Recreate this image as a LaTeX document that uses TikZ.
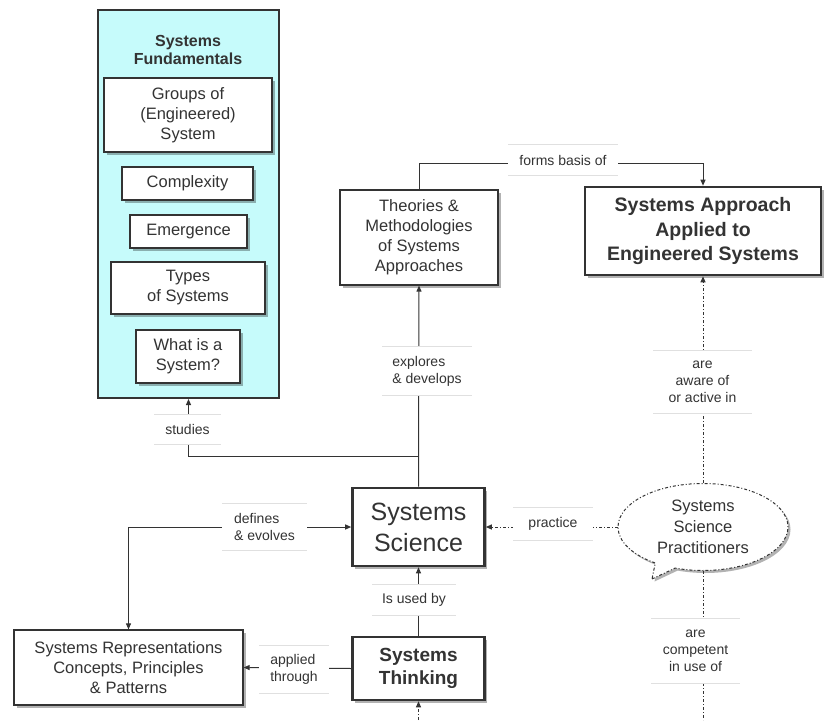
\documentclass[tikz,border=0pt]{standalone}
\usepackage{fontspec}
\setmainfont{Liberation Sans}
\usetikzlibrary{arrows.meta,shapes.callouts,shadows}
\definecolor{ink}{HTML}{333333}
\definecolor{cyanbg}{HTML}{C6FBFB}
\definecolor{lblgray}{HTML}{E0E0E0}
\begin{document}
\begin{tikzpicture}[x=1pt,y=-1pt,
  shad/.style={drop shadow={shadow xshift=2.5pt,shadow yshift=-2.5pt,fill=black,opacity=0.3}},
  box/.style={draw=ink,line width=1.2pt,fill=white,text=ink,align=center,inner sep=2pt,shad,
    font=\fontsize{16.5}{20}\selectfont},
  bigbox/.style={box,line width=2.6pt},
  container/.style={draw=ink,line width=2pt,fill=cyanbg},
  lbl/.style={fill=white,text=ink,inner sep=0pt,align=center,font=\fontsize{14}{17}\selectfont},
  lblline/.style={draw=lblgray,line width=0.8pt},
  conn/.style={draw=ink,line width=1pt},
  arr/.style={-{Triangle[length=6pt,width=5pt]}},
  dd/.style={dash pattern=on 3pt off 2pt on 1pt off 2pt},
  bubble/.style={ellipse callout,draw=ink,line width=1pt,dd,fill=white,text=ink,align=center,
    inner sep=0pt,minimum width=170pt,minimum height=87pt,shad,
    font=\fontsize{16.5}{21}\selectfont}
]
\useasboundingbox (0,0) rectangle (824,720);

% container
\node[container,minimum width=181pt,minimum height=388pt,inner sep=0pt] (sf) at (188.5,204) {};
\node[text=ink,align=center,font=\bfseries\fontsize{16}{18}\selectfont] (sftitle) at (188,50) {Systems\\Fundamentals};
\node[box,minimum width=168pt,minimum height=74pt] (groups) at (188,115) {Groups of\\(Engineered)\\System};
\node[box,minimum width=131pt,minimum height=33pt] (complexity) at (187.5,183.5) {Complexity};
\node[box,minimum width=117pt,minimum height=33pt] (emergence) at (188.5,231.5) {Emergence};
\node[box,minimum width=154pt,minimum height=52pt] (types) at (188,288) {Types\\of Systems};
\node[box,minimum width=104pt,minimum height=53pt] (what) at (188,356.5) {What is a\\System?};

% main boxes
\node[box,minimum width=158pt,minimum height=95pt] (theories) at (419,237.5) {Theories \&\\Methodologies\\of Systems\\Approaches};
\node[bigbox,minimum width=236pt,minimum height=88pt,font=\bfseries\fontsize{19.5}{24.5}\selectfont] (approach) at (703,231) {Systems Approach\\Applied to\\Engineered Systems};
\node[bigbox,minimum width=132pt,minimum height=78pt,font=\fontsize{25}{31}\selectfont] (science) at (418.5,527) {Systems\\Science};
\node[bigbox,minimum width=132pt,minimum height=63pt,font=\bfseries\fontsize{19}{23}\selectfont] (thinking) at (418.5,668.5) {Systems\\Thinking};
\node[box,minimum width=229pt,minimum height=75pt] (reps) at (128.5,667.5) {Systems Representations\\Concepts, Principles\\\& Patterns};
\node[bubble,callout absolute pointer={(652,579)}] (prac) at (703,527) {Systems\\Science\\Practitioners};

% helper coordinates
\coordinate (fb1) at (419,163);
\coordinate (fb2) at (703,163);
\coordinate (j1) at (418.5,456);
\coordinate (st) at (188.5,456);
\coordinate (de) at (128.5,527);
\coordinate (bt1) at (418.5,720);
\coordinate (bt2) at (703,720);

% connectors
\draw[conn,arr] (theories.north) -- (fb1) -- (fb2) -- (approach.north);
\draw[conn,arr] (science.north) -- (theories.south);
\draw[conn,arr] (j1) -- (st) -- (sf.south);
\draw[conn,{Triangle[length=6pt,width=5pt]}-{Triangle[length=6pt,width=5pt]}] (science.west) -- (de) -- (reps.north);
\draw[conn,arr] (thinking.north) -- (science.south);
\draw[conn,arr] (thinking.west) -- (reps.east);
\draw[conn,dd,arr] (prac.west) -- (science.east);
\draw[conn,dd,arr] (prac.north) -- (approach.south);
\draw[conn,dd] (prac.south) -- (bt2);
\draw[conn,dd,arr] (bt1) -- (thinking.south);

% labels
\node[lbl,minimum width=110pt,minimum height=30pt] (l1) at (563,160) {forms basis of};
\node[lbl,minimum width=90pt,minimum height=48pt,align=left] (l2) at (427,371) {explores\\\& develops};
\node[lbl,minimum width=66pt,minimum height=29pt] (l3) at (187.5,429.5) {studies};
\node[lbl,minimum width=85pt,minimum height=47pt,align=left] (l4) at (264.5,527) {defines\\\& evolves};
\node[lbl,minimum width=84pt,minimum height=30pt] (l5) at (414,600) {Is used by};
\node[lbl,minimum width=70pt,minimum height=47pt,align=left] (l6) at (294,669.5) {applied\\through};
\node[lbl,minimum width=80pt,minimum height=32pt] (l7) at (553,524) {practice};
\node[lbl,minimum width=99pt,minimum height=62pt] (l8) at (702.5,382) {are\\aware of\\or active in};
\node[lbl,minimum width=89pt,minimum height=64pt] (l9) at (695.5,651) {are\\competent\\in use of};
\foreach \l in {l1,l2,l3,l4,l5,l6,l7,l8,l9}{
  \draw[lblline] (\l.north west) -- (\l.north east) (\l.south west) -- (\l.south east);
}
\end{tikzpicture}
\end{document}
